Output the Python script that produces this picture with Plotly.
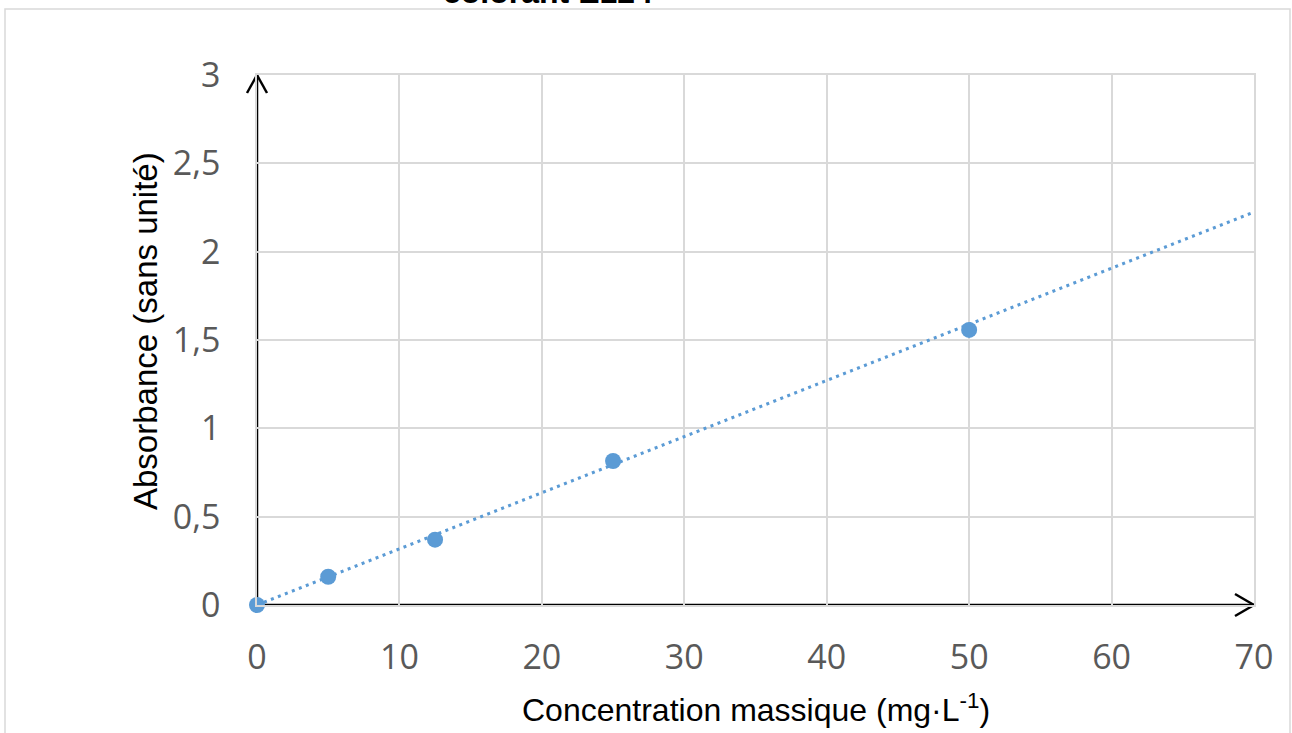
import plotly.graph_objects as go

# Data
concentration = [0, 5, 12.5, 25, 50]            # mg/L
absorbance = [0, 0.16, 0.37, 0.815, 1.557]
trend_x = [0, 70]
trend_y = [0, 2.224]

x_ticks = [0, 10, 20, 30, 40, 50, 60, 70]
x_ticktext = ["0", "10", "20", "30", "40", "50", "60", "70"]
y_ticks = [0, 0.5, 1, 1.5, 2, 2.5, 3]
y_ticktext = ["0", "0,5", "1", "1,5", "2", "2,5", "3"]

title_text = "<b>colorant E124</b>"
x_title = "Concentration massique (mg·L<sup>-1</sup>)"
y_title = "Absorbance (sans unité)"

X_RANGE = [0, 70]
Y_RANGE = [0, 3]

BLUE = "#5b9bd5"
GRID = "#d9d9d9"

W, H = 1292, 733
ML, MR, MT, MB = 257, 38, 75, 128
PW = W - ML - MR
PH = H - MT - MB


def px_to_paper_x(px):
    return (px - ML) / PW


def px_to_paper_y(py):
    return (H - MB - py) / PH


fig = go.Figure()

fig.add_trace(go.Scatter(
    x=trend_x, y=trend_y, mode="lines",
    line=dict(color=BLUE, width=3, dash="3px,4.5px"),
    hoverinfo="skip", showlegend=False, cliponaxis=False,
))
fig.add_trace(go.Scatter(
    x=concentration, y=absorbance, mode="markers",
    marker=dict(color=BLUE, size=16, line=dict(width=0)),
    showlegend=False, cliponaxis=False,
))

shapes = []
# chart frame
shapes.append(dict(type="rect", xref="paper", yref="paper",
                   x0=px_to_paper_x(5), x1=px_to_paper_x(1290),
                   y0=px_to_paper_y(745), y1=px_to_paper_y(9),
                   line=dict(color=GRID, width=1.5), layer="below"))
# axis arrows (paper-referenced so they are not clipped)
AX = dict(color="black", width=2.5)
shapes.append(dict(type="line", xref="paper", yref="paper",
                   x0=0, x1=0, y0=0, y1=1, line=AX, layer="between"))
shapes.append(dict(type="line", xref="paper", yref="paper",
                   x0=0, x1=1, y0=0, y1=0, line=AX, layer="between"))
# y arrowhead
for dx in (-10, 10):
    shapes.append(dict(type="line", xref="paper", yref="paper",
                       xsizemode="pixel", ysizemode="pixel",
                       xanchor=0, yanchor=1,
                       x0=0, y0=0, x1=dx, y1=-18,
                       line=AX, layer="between"))
# x arrowhead
for dy in (-11, 11):
    shapes.append(dict(type="line", xref="paper", yref="paper",
                       xsizemode="pixel", ysizemode="pixel",
                       xanchor=1, yanchor=0,
                       x0=0, y0=0, x1=-19, y1=dy,
                       line=AX, layer="between"))

TITLE_FONT = dict(family="Liberation Sans, Arial", color="black")

fig.update_layout(
    width=W, height=H,
    margin=dict(l=ML, r=MR, t=MT, b=MB, autoexpand=False),
    paper_bgcolor="white", plot_bgcolor="white",
    shapes=shapes,
    annotations=[
        dict(text=title_text, xref="paper", yref="paper",
             x=px_to_paper_x(548), y=px_to_paper_y(12),
             xanchor="center", yanchor="bottom", showarrow=False,
             font=dict(size=32, **TITLE_FONT)),
        dict(text=x_title, xref="paper", yref="paper",
             x=px_to_paper_x(756), y=px_to_paper_y(708),
             xanchor="center", yanchor="middle", showarrow=False,
             font=dict(size=32, **TITLE_FONT)),
        dict(text=y_title, xref="paper", yref="paper", textangle=-90,
             x=px_to_paper_x(145), y=px_to_paper_y(331),
             xanchor="center", yanchor="middle", showarrow=False,
             font=dict(size=33, **TITLE_FONT)),
    ],
)

fig.update_xaxes(
    range=X_RANGE, tickvals=x_ticks, ticktext=x_ticktext,
    showgrid=True, gridcolor=GRID, gridwidth=1.5,
    showline=True, linecolor=GRID, linewidth=1.5, mirror=True,
    zeroline=False, ticks="", ticklabelstandoff=21,
    tickfont=dict(family="Open Sans", size=34, color="#595959"),
)
fig.update_yaxes(
    range=Y_RANGE, tickvals=y_ticks, ticktext=y_ticktext,
    showgrid=True, gridcolor=GRID, gridwidth=1.5,
    showline=True, linecolor=GRID, linewidth=1.5, mirror=True,
    zeroline=False, ticks="", ticklabelstandoff=28,
    tickfont=dict(family="Open Sans", size=34, color="#595959"),
)

fig.write_html("out.html", config={"displayModeBar": False},
               post_script="document.body.style.margin='0';")
